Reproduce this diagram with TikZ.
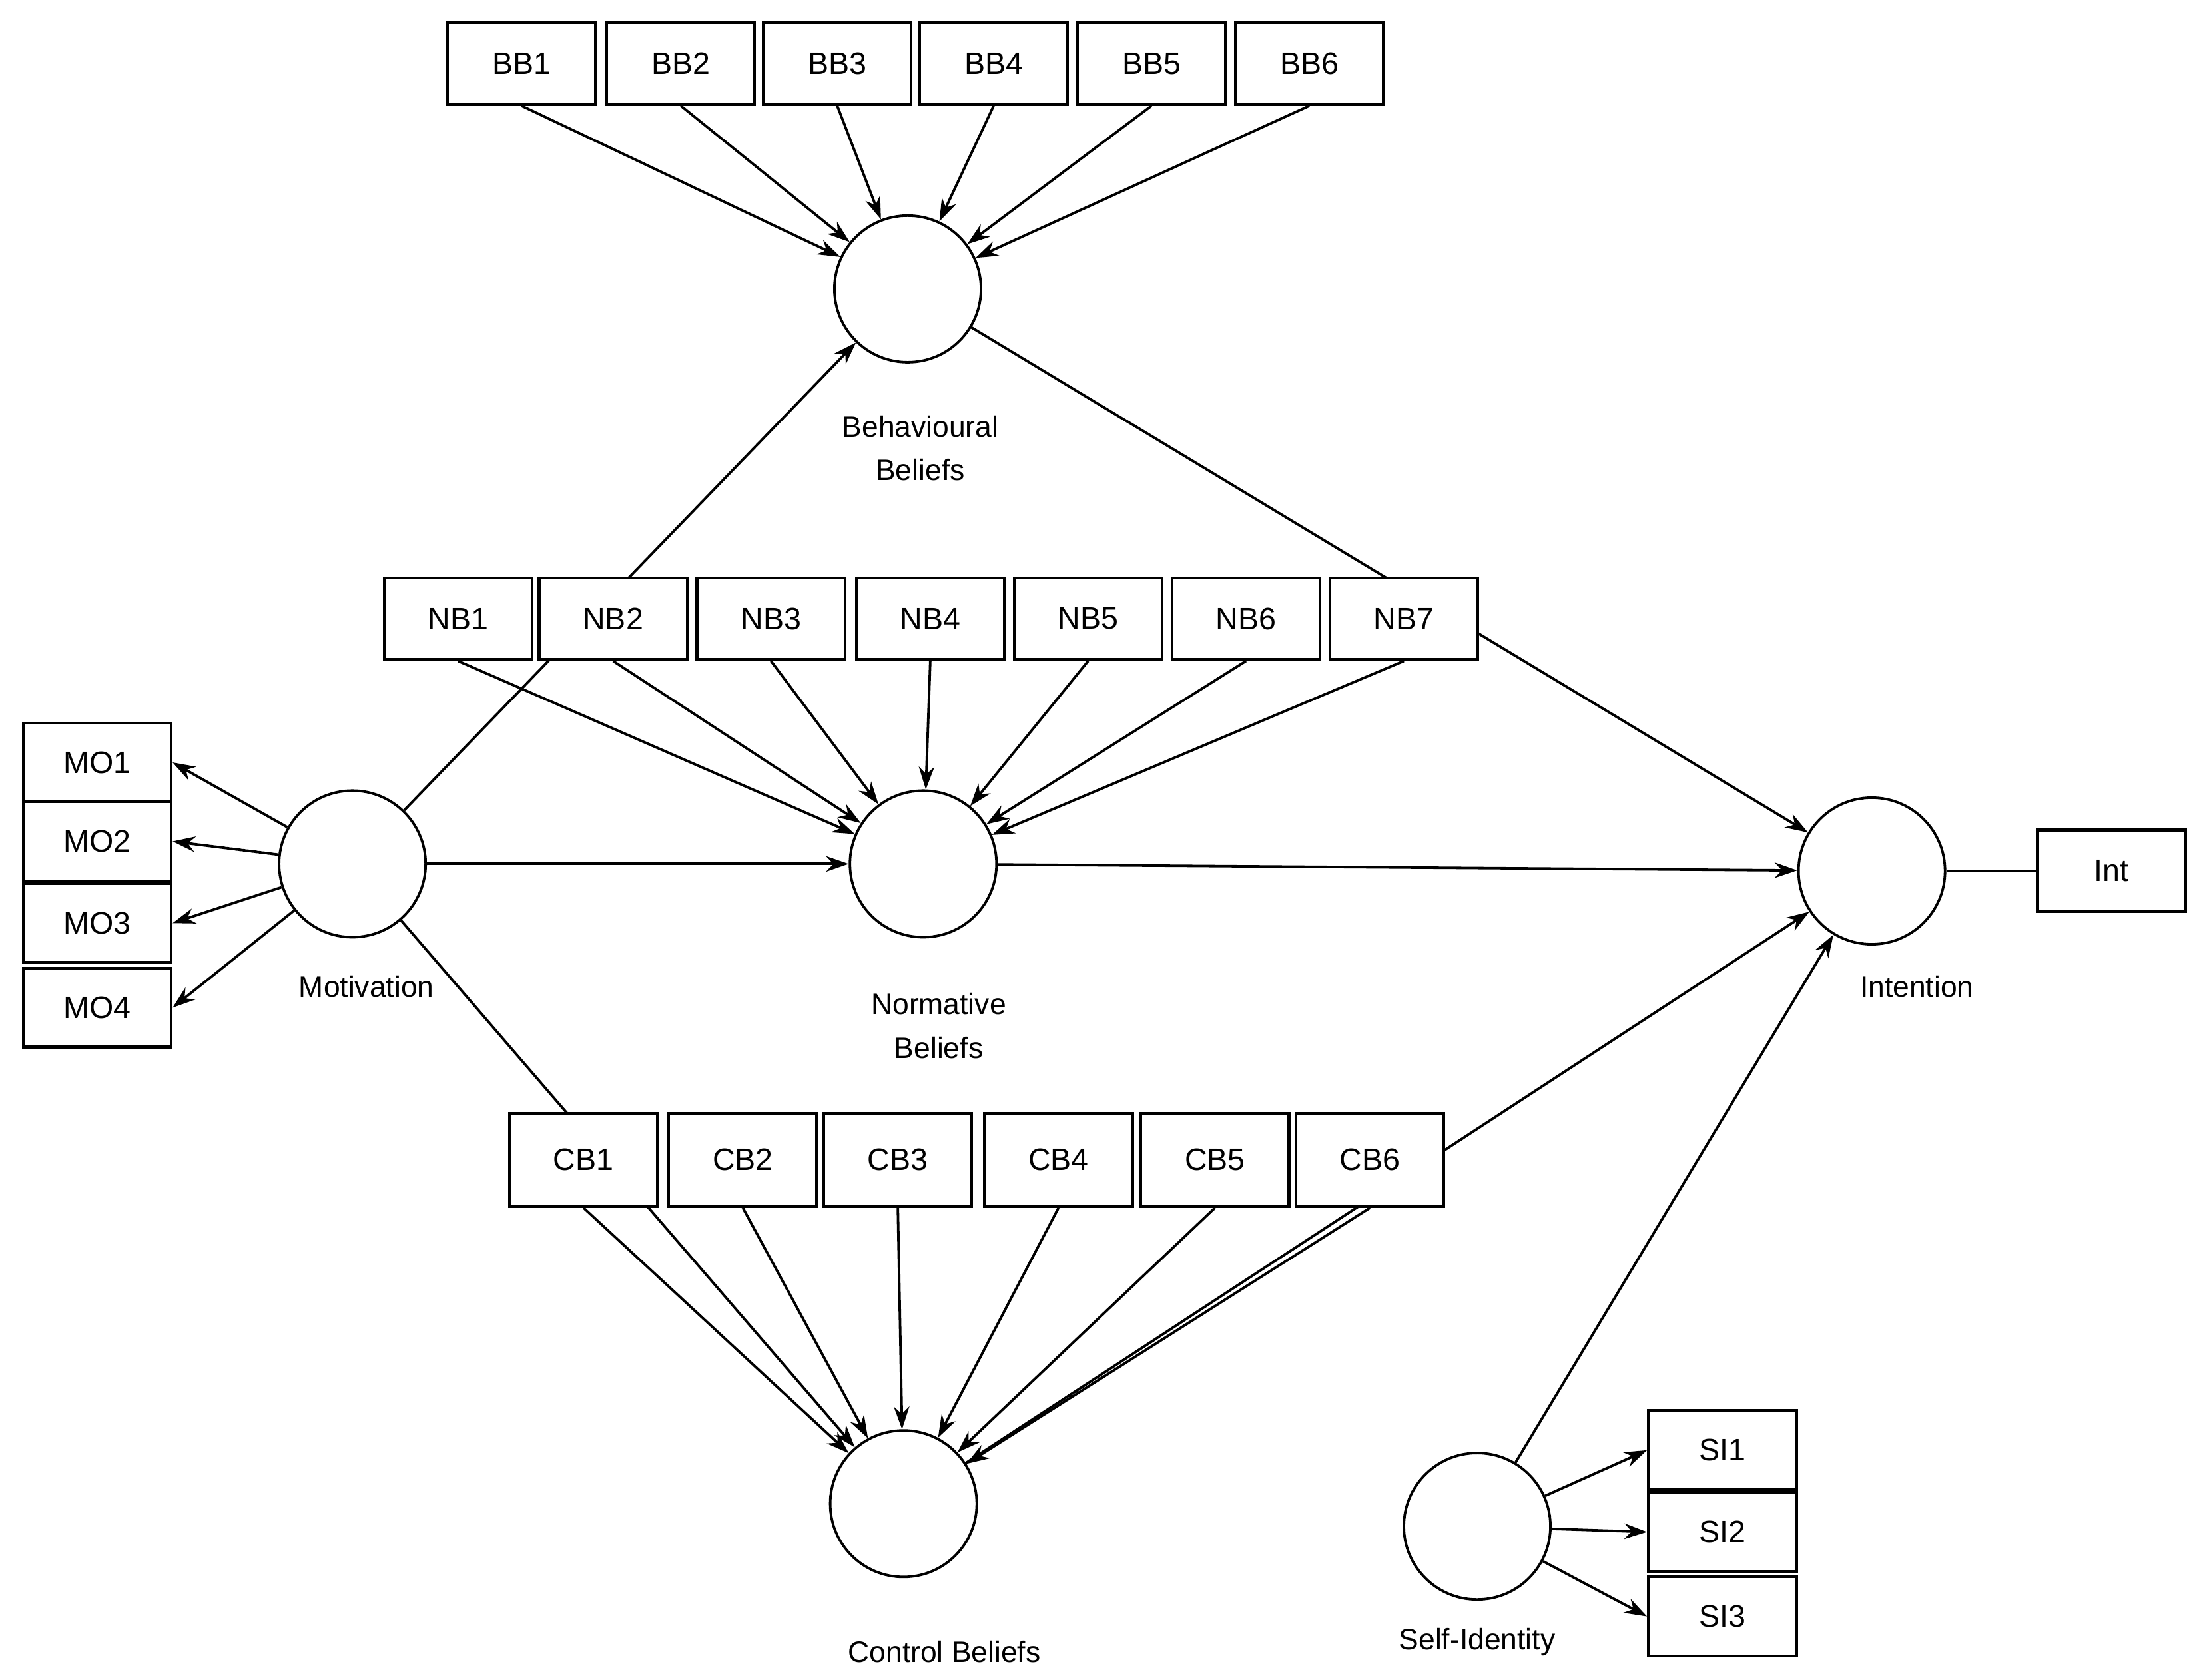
\documentclass[tikz,border=0pt]{standalone}
\usepackage{fontspec}
\setmainfont{Liberation Sans}
\usetikzlibrary{arrows.meta}
\pgfdeclarelayer{bg}
\pgfsetlayers{bg,main}
\begin{document}
\begin{tikzpicture}[x=1pt,y=-1pt,
  box/.style={draw,line width=2pt,fill=white,minimum width=105pt,minimum height=58pt,inner sep=0pt,font=\fontsize{22}{24}\selectfont},
  sbox/.style={box,minimum height=56pt},
  circ/.style={draw,line width=1.8pt,circle,fill=white,minimum size=104pt,inner sep=0pt},
  lab/.style={font=\fontsize{21}{31}\selectfont,align=center},
  arr/.style={line width=1.8pt,-{Stealth[length=16pt,width=11pt]}},
  ln/.style={line width=1.8pt}]
\useasboundingbox (0,0) rectangle (1563,1192);
% BB
\foreach \i/\x in {1/370,2/483,3/594,4/705,5/817,6/929}{\node[box] (BB\i) at (\x,45) {BB\i};}
\node[circ] (Beh) at (644,205) {};
\node[lab] at (653,318) {Behavioural\\Beliefs};
% NB
\foreach \i/\x in {1/325,2/435,3/547,4/660,5/772,6/884,7/996}{\node[box] (NB\i) at (\x,439) {NB\i};}
\node[circ] (Nor) at (655,613) {};
\node[lab] at (666,728) {Normative\\Beliefs};
% Motivation
\node[circ] (Mot) at (250,613) {};
\node[lab] at (260,700) {Motivation};
\foreach \i/\y in {1/541,2/597,3/655,4/715}{\node[sbox] (MO\i) at (69,\y) {MO\i};}
% Intention
\node[circ] (Int) at (1328,618) {};
\node[lab] at (1360,700) {Intention};
\node[box] (IntB) at (1498,618) {Int};
% CB
\foreach \i/\x in {1/414,2/527,3/637,4/751,5/862,6/972}{\node[box,minimum height=66pt] (CB\i) at (\x,823) {CB\i};}
\node[circ] (Con) at (641,1067) {};
\node[lab] at (670,1172) {Control Beliefs};
% SI
\node[circ] (SI) at (1048,1083) {};
\node[lab] at (1048,1165) {Self-Identity};
\foreach \i/\y in {1/1029,2/1087,3/1147}{\node[sbox] (SI\i) at (1222,\y) {SI\i};}
\begin{pgfonlayer}{bg}
\foreach \i in {1,...,6}{\draw[arr] (BB\i.south) -- (Beh);}
\foreach \i in {1,...,7}{\draw[arr] (NB\i.south) -- (Nor);}
\foreach \i in {1,...,6}{\draw[arr] (CB\i.south) -- (Con);}
\draw[arr] (Mot) -- (Beh);
\draw[arr] (Mot) -- (Con);
\draw[arr] (Mot) -- (Nor);
\foreach \i in {1,...,4}{\draw[arr] (Mot) -- (MO\i.east);}
\draw[arr] (Beh) -- (Int);
\draw[arr] (Nor) -- (Int);
\draw[arr] (Con) -- (Int);
\draw[arr] (SI) -- (Int);
\foreach \i in {1,...,3}{\draw[arr] (SI) -- (SI\i.west);}
\draw[ln] (Int) -- (IntB);
\end{pgfonlayer}
\end{tikzpicture}
\end{document}
